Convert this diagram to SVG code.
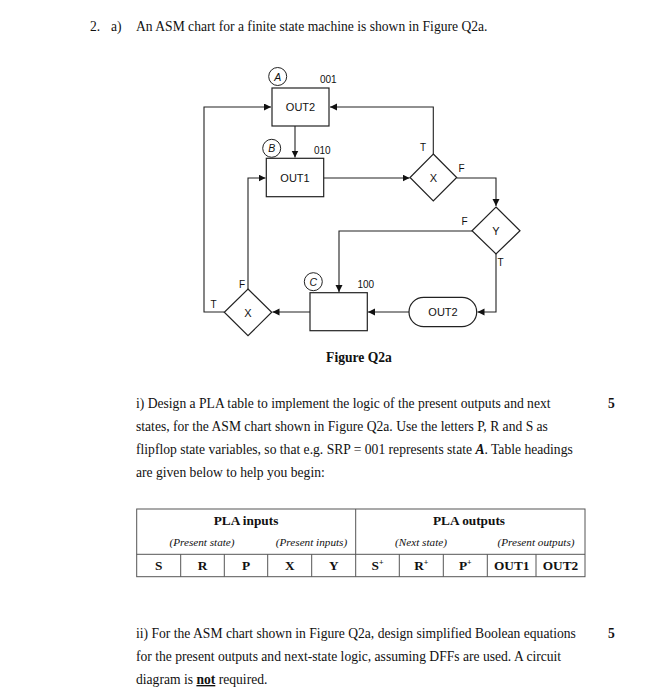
<svg xmlns="http://www.w3.org/2000/svg" width="668" height="700" viewBox="0 0 668 700">
<style>
.body{font-family:"Liberation Serif","Times New Roman",serif;font-size:13.6px;fill:#111}
.lbl{font-family:"Liberation Sans",Arial,sans-serif;font-size:10px;fill:#111}
.nt{font-family:"Liberation Sans",Arial,sans-serif;font-size:11px;fill:#111;text-anchor:middle;dominant-baseline:central}
.circ{font-family:"Liberation Sans",Arial,sans-serif;font-size:10.5px;font-style:italic;fill:#111;text-anchor:middle;dominant-baseline:central}
.shape{fill:#fff;stroke:#222;stroke-width:1.2}
.wire{fill:none;stroke:#222;stroke-width:1.1;marker-end:url(#ah)}
.th{font-family:"Liberation Serif","Times New Roman",serif;font-weight:bold;font-size:13.3px;fill:#111;text-anchor:middle;dominant-baseline:central}
.ti{font-family:"Liberation Serif","Times New Roman",serif;font-style:italic;font-size:11.2px;fill:#111;text-anchor:middle;dominant-baseline:central}
.tl{stroke:#555;stroke-width:1;fill:none}
</style>
<defs>
<marker id="ah" markerWidth="8" markerHeight="8" refX="7" refY="3.5" orient="auto" markerUnits="userSpaceOnUse">
<path d="M0,0 L7,3.5 L0,7 Z" fill="#111"/>
</marker>
</defs>
<rect width="668" height="700" fill="#fff"/>

<text class="body" x="90" y="31">2.</text>
<text class="body" x="111" y="31">a)</text>
<text class="body" x="136" y="31">An ASM chart for a finite state machine is shown in Figure Q2a.</text>

<g id="connectors">
<path class="wire" d="M224.3,312 H204 V107 H271"/>
<path class="wire" d="M433.3,154 V107 H330"/>
<path class="wire" d="M295,126 V157.5"/>
<path class="wire" d="M248,289 V178 H265.5"/>
<path class="wire" d="M324,178 H409.5"/>
<path class="wire" d="M456.7,178 H496 V206"/>
<path class="wire" d="M472,231 H339 V292"/>
<path class="wire" d="M496,254 V312 H477.5"/>
<path class="wire" d="M409,312 H368"/>
<path class="wire" d="M310,312 H272.5"/>
</g>

<g id="stateA">
<rect class="shape" x="272" y="88" width="57" height="38"/>
<text class="nt" x="300.5" y="107">OUT2</text>
<circle cx="277.7" cy="76.5" r="9" fill="#fff" stroke="#222" stroke-width="1"/>
<text class="circ" x="277.7" y="76.5">A</text>
<text class="lbl" x="320" y="82.5">001</text>
</g>

<g id="stateB">
<rect class="shape" x="266.3" y="158.3" width="57.4" height="38.4"/>
<text class="nt" x="295" y="177.5">OUT1</text>
<circle cx="271.7" cy="148.3" r="9" fill="#fff" stroke="#222" stroke-width="1"/>
<text class="circ" x="271.7" y="148.3">B</text>
<text class="lbl" x="314" y="154">010</text>
</g>

<g id="decisionX1">
<path class="shape" d="M433.3,154 L456.7,177.5 L433.3,201 L410,177.5 Z"/>
<text class="nt" x="433.3" y="178">X</text>
<text class="lbl" x="420" y="151">T</text>
<text class="lbl" x="458.5" y="172">F</text>
</g>

<g id="decisionY">
<path class="shape" d="M496,207 L520,230.7 L496,254 L472,230.7 Z"/>
<text class="nt" x="496" y="231">Y</text>
<text class="lbl" x="461.5" y="225">F</text>
<text class="lbl" x="497.5" y="266">T</text>
</g>

<g id="stateC">
<rect class="shape" x="310" y="292.7" width="57.3" height="38"/>
<circle cx="313.3" cy="281.7" r="9" fill="#fff" stroke="#222" stroke-width="1"/>
<text class="circ" x="313.3" y="281.7">C</text>
<text class="lbl" x="357.5" y="288">100</text>
</g>

<g id="condOut2">
<rect class="shape" x="409" y="297.3" width="67.7" height="29.4" rx="14.7" ry="14.7"/>
<text class="nt" x="443" y="312">OUT2</text>
</g>

<g id="decisionX2">
<path class="shape" d="M248,289 L271.7,312.3 L248,335.7 L224.3,312.3 Z"/>
<text class="nt" x="248" y="312.5">X</text>
<text class="lbl" x="239" y="288">F</text>
<text class="lbl" x="210.5" y="308">T</text>
</g>

<text class="body" x="359" y="362" text-anchor="middle" font-weight="bold" font-size="13.3">Figure Q2a</text>

<text class="body" x="136" y="408">i) Design a PLA table to implement the logic of the present outputs and next</text>
<text class="body" x="136" y="431">states, for the ASM chart shown in Figure Q2a. Use the letters P, R and S as</text>
<text class="body" x="136" y="454">flipflop state variables, so that e.g. SRP = 001 represents state <tspan font-weight="bold" font-style="italic">A</tspan>. Table headings</text>
<text class="body" x="136" y="477">are given below to help you begin:</text>
<text class="body" x="608" y="408" font-weight="bold">5</text>

<g id="table">
<rect class="tl" x="136.7" y="509" width="448.3" height="67.7"/>
<line class="tl" x1="355.7" y1="509" x2="355.7" y2="576.7"/>
<line class="tl" x1="136.7" y1="554.3" x2="585" y2="554.3"/>
<line class="tl" x1="180.7" y1="554.3" x2="180.7" y2="576.7"/>
<line class="tl" x1="224.3" y1="554.3" x2="224.3" y2="576.7"/>
<line class="tl" x1="267.7" y1="554.3" x2="267.7" y2="576.7"/>
<line class="tl" x1="311.7" y1="554.3" x2="311.7" y2="576.7"/>
<line class="tl" x1="399.3" y1="554.3" x2="399.3" y2="576.7"/>
<line class="tl" x1="443.3" y1="554.3" x2="443.3" y2="576.7"/>
<line class="tl" x1="487.3" y1="554.3" x2="487.3" y2="576.7"/>
<line class="tl" x1="536" y1="554.3" x2="536" y2="576.7"/>
<text class="th" x="246" y="520">PLA inputs</text>
<text class="th" x="469" y="520">PLA outputs</text>
<text class="ti" x="202" y="542">(Present state)</text>
<text class="ti" x="311.5" y="542">(Present inputs)</text>
<text class="ti" x="421" y="542">(Next state)</text>
<text class="ti" x="536" y="542">(Present outputs)</text>
<text class="th" x="158.7" y="565.5">S</text>
<text class="th" x="202.5" y="565.5">R</text>
<text class="th" x="246" y="565.5">P</text>
<text class="th" x="289.7" y="565.5">X</text>
<text class="th" x="333.7" y="565.5">Y</text>
<text class="th" x="377.5" y="565.5">S<tspan font-size="8" dy="-4">+</tspan></text>
<text class="th" x="421.3" y="565.5">R<tspan font-size="8" dy="-4">+</tspan></text>
<text class="th" x="465.3" y="565.5">P<tspan font-size="8" dy="-4">+</tspan></text>
<text class="th" x="511.7" y="565.5">OUT1</text>
<text class="th" x="560.5" y="565.5">OUT2</text>
</g>

<text class="body" x="136" y="638">ii)  For the ASM chart shown in Figure Q2a, design simplified Boolean equations</text>
<text class="body" x="136" y="661">for the present outputs and next-state logic, assuming DFFs are used. A circuit</text>
<text class="body" x="136" y="684">diagram is <tspan font-weight="bold" text-decoration="underline">not</tspan> required.</text>
<text class="body" x="608" y="638" font-weight="bold">5</text>
</svg>
